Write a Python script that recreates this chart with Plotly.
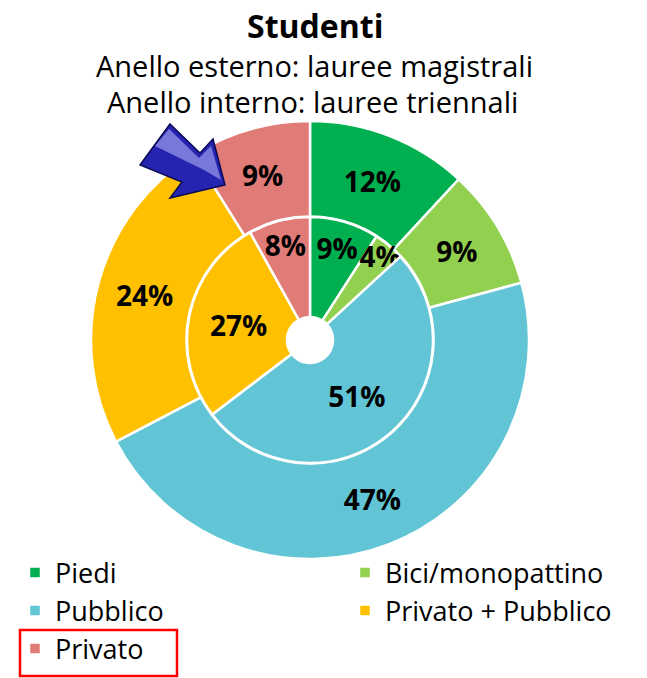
import plotly.graph_objects as go

categories = ["Piedi", "Bici/monopattino", "Pubblico", "Privato + Pubblico", "Privato"]
outer_magistrali = [12, 9, 47, 24, 9]
inner_triennali = [9, 4, 51, 27, 8]
colors = ["#00B050", "#92D050", "#61C5D6", "#FFC000", "#E07B77"]

W, H = 665, 678
OFF = 8  # page body margin offset of the rendered figure
FONT = "Open Sans"

def dom(cx, cy, r):
    cx -= OFF
    cy -= OFF
    return dict(x=[(cx - r) / W, (cx + r) / W], y=[(H - cy - r) / H, (H - cy + r) / H])

fig = go.Figure()
fig.add_trace(go.Pie(
    labels=categories, values=outer_magistrali, text=[f"{v}%" for v in outer_magistrali],
    textinfo="text", textposition="inside", insidetextorientation="horizontal",
    sort=False, direction="clockwise", rotation=0, hole=0.564,
    marker=dict(colors=colors, line=dict(color="white", width=2.5)),
    domain=dom(310, 340, 219),
    textfont=dict(family=FONT, size=28, color="black", weight="bold"),
    hoverinfo="label+text", name="Lauree magistrali",
))
fig.add_trace(go.Pie(
    labels=categories, values=inner_triennali, text=[f"{v}%" for v in inner_triennali],
    textinfo="text", textposition="inside", insidetextorientation="horizontal",
    sort=False, direction="clockwise", rotation=0, hole=0.187,
    marker=dict(colors=colors, line=dict(color="white", width=2.5)),
    domain=dom(310, 340, 123),
    textfont=dict(family=FONT, size=28, color="black", weight="bold"),
    hoverinfo="label+text", name="Lauree triennali", showlegend=False,
))

# hidden axes in screen pixels for decorations
fig.update_layout(
    xaxis=dict(range=[OFF, W + OFF], visible=False, fixedrange=True),
    yaxis=dict(range=[H + OFF, OFF], visible=False, fixedrange=True),
)

arrow = "M 170 124 L 200 153 L 213 139 L 225 185 L 170 198 L 182 182 L 140 165 Z"
highlight = "M 169 129 L 199 158 L 211 146 L 221 180 L 204 170 L 155 146 Z"
fig.add_shape(type="path", path=arrow, xref="x", yref="y",
              fillcolor="#2424B0", line=dict(color="#0A0A55", width=1.5), layer="above")
fig.add_shape(type="path", path=highlight, xref="x", yref="y",
              fillcolor="#9494E8", line=dict(width=0), layer="above", opacity=0.75)
fig.add_shape(type="rect", x0=20, x1=177, y0=630, y1=676, xref="x", yref="y",
              line=dict(color="#FF0000", width=2.5))

fig.add_annotation(x=315, y=25, xref="x", yref="y", text="<b>Studenti</b>", showarrow=False,
                   font=dict(family=FONT, size=32, color="black"))
fig.add_annotation(x=314, y=65, xref="x", yref="y", text="Anello esterno: lauree magistrali",
                   showarrow=False, font=dict(family=FONT, size=29, color="black"))
fig.add_annotation(x=312, y=101, xref="x", yref="y", text="Anello interno: lauree triennali",
                   showarrow=False, font=dict(family=FONT, size=29, color="black"))

fig.update_layout(
    width=W, height=H, margin=dict(l=0, r=0, t=0, b=0, autoexpand=False),
    paper_bgcolor="white", plot_bgcolor="white",
    uniformtext=dict(minsize=28, mode="show"),
    legend=dict(orientation="h", x=7 / W, y=0.203, xanchor="left", yanchor="top",
                entrywidth=285, bgcolor="rgba(0,0,0,0)",
                font=dict(family=FONT, size=27, color="black"),
                traceorder="normal"),
)

fig.write_html("out.html")
